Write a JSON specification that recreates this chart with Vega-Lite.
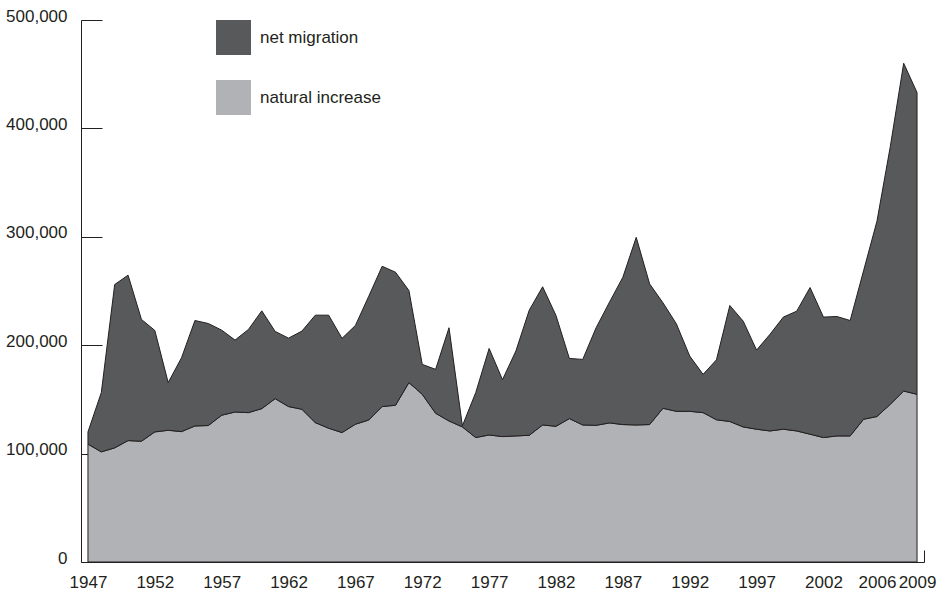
{
  "$schema": "https://vega.github.io/schema/vega-lite/v6.json",
  "width": 843,
  "height": 542,
  "autosize": "none",
  "padding": {"left": 81, "top": 20, "right": 25, "bottom": 29},
  "background": "white",
  "config": {
    "view": {"stroke": null},
    "font": "Liberation Sans, Arial, sans-serif",
    "axis": {
      "labelFont": "Liberation Sans, Arial, sans-serif",
      "labelFontSize": 17,
      "labelColor": "#231f20",
      "domainColor": "#231f20",
      "domainWidth": 1,
      "tickColor": "#231f20",
      "tickWidth": 1,
      "grid": false,
      "title": null
    },
    "legend": {
      "labelFont": "Liberation Sans, Arial, sans-serif"
    }
  },
  "data": {
    "values": [
      {"year": 1947, "series": "natural increase", "value": 108700},
      {"year": 1948, "series": "natural increase", "value": 101600},
      {"year": 1949, "series": "natural increase", "value": 105300},
      {"year": 1950, "series": "natural increase", "value": 112000},
      {"year": 1951, "series": "natural increase", "value": 111400},
      {"year": 1952, "series": "natural increase", "value": 120000},
      {"year": 1953, "series": "natural increase", "value": 121500},
      {"year": 1954, "series": "natural increase", "value": 120300},
      {"year": 1955, "series": "natural increase", "value": 125500},
      {"year": 1956, "series": "natural increase", "value": 125900},
      {"year": 1957, "series": "natural increase", "value": 135400},
      {"year": 1958, "series": "natural increase", "value": 138400},
      {"year": 1959, "series": "natural increase", "value": 137800},
      {"year": 1960, "series": "natural increase", "value": 141500},
      {"year": 1961, "series": "natural increase", "value": 150700},
      {"year": 1962, "series": "natural increase", "value": 143400},
      {"year": 1963, "series": "natural increase", "value": 140900},
      {"year": 1964, "series": "natural increase", "value": 128600},
      {"year": 1965, "series": "natural increase", "value": 123400},
      {"year": 1966, "series": "natural increase", "value": 119400},
      {"year": 1967, "series": "natural increase", "value": 127100},
      {"year": 1968, "series": "natural increase", "value": 131000},
      {"year": 1969, "series": "natural increase", "value": 143400},
      {"year": 1970, "series": "natural increase", "value": 144600},
      {"year": 1971, "series": "natural increase", "value": 165500},
      {"year": 1972, "series": "natural increase", "value": 154700},
      {"year": 1973, "series": "natural increase", "value": 137200},
      {"year": 1974, "series": "natural increase", "value": 130100},
      {"year": 1975, "series": "natural increase", "value": 124600},
      {"year": 1976, "series": "natural increase", "value": 114800},
      {"year": 1977, "series": "natural increase", "value": 117200},
      {"year": 1978, "series": "natural increase", "value": 115700},
      {"year": 1979, "series": "natural increase", "value": 116300},
      {"year": 1980, "series": "natural increase", "value": 116900},
      {"year": 1981, "series": "natural increase", "value": 126400},
      {"year": 1982, "series": "natural increase", "value": 125200},
      {"year": 1983, "series": "natural increase", "value": 132300},
      {"year": 1984, "series": "natural increase", "value": 126400},
      {"year": 1985, "series": "natural increase", "value": 126100},
      {"year": 1986, "series": "natural increase", "value": 128300},
      {"year": 1987, "series": "natural increase", "value": 126800},
      {"year": 1988, "series": "natural increase", "value": 126400},
      {"year": 1989, "series": "natural increase", "value": 126800},
      {"year": 1990, "series": "natural increase", "value": 141800},
      {"year": 1991, "series": "natural increase", "value": 139000},
      {"year": 1992, "series": "natural increase", "value": 139000},
      {"year": 1993, "series": "natural increase", "value": 137800},
      {"year": 1994, "series": "natural increase", "value": 131200},
      {"year": 1995, "series": "natural increase", "value": 129600},
      {"year": 1996, "series": "natural increase", "value": 124600},
      {"year": 1997, "series": "natural increase", "value": 122500},
      {"year": 1998, "series": "natural increase", "value": 120900},
      {"year": 1999, "series": "natural increase", "value": 122500},
      {"year": 2000, "series": "natural increase", "value": 120900},
      {"year": 2001, "series": "natural increase", "value": 117900},
      {"year": 2002, "series": "natural increase", "value": 114800},
      {"year": 2003, "series": "natural increase", "value": 116300},
      {"year": 2004, "series": "natural increase", "value": 116300},
      {"year": 2005, "series": "natural increase", "value": 131700},
      {"year": 2006, "series": "natural increase", "value": 134200},
      {"year": 2007, "series": "natural increase", "value": 145500},
      {"year": 2008, "series": "natural increase", "value": 157700},
      {"year": 2009, "series": "natural increase", "value": 154700},
      {"year": 1947, "series": "net migration", "value": 11300},
      {"year": 1948, "series": "net migration", "value": 54700},
      {"year": 1949, "series": "net migration", "value": 150700},
      {"year": 1950, "series": "net migration", "value": 152600},
      {"year": 1951, "series": "net migration", "value": 112400},
      {"year": 1952, "series": "net migration", "value": 93600},
      {"year": 1953, "series": "net migration", "value": 44000},
      {"year": 1954, "series": "net migration", "value": 68200},
      {"year": 1955, "series": "net migration", "value": 97300},
      {"year": 1956, "series": "net migration", "value": 94100},
      {"year": 1957, "series": "net migration", "value": 78500},
      {"year": 1958, "series": "net migration", "value": 66300},
      {"year": 1959, "series": "net migration", "value": 76700},
      {"year": 1960, "series": "net migration", "value": 90200},
      {"year": 1961, "series": "net migration", "value": 62000},
      {"year": 1962, "series": "net migration", "value": 63100},
      {"year": 1963, "series": "net migration", "value": 72100},
      {"year": 1964, "series": "net migration", "value": 99100},
      {"year": 1965, "series": "net migration", "value": 104300},
      {"year": 1966, "series": "net migration", "value": 86900},
      {"year": 1967, "series": "net migration", "value": 91100},
      {"year": 1968, "series": "net migration", "value": 114200},
      {"year": 1969, "series": "net migration", "value": 129400},
      {"year": 1970, "series": "net migration", "value": 122700},
      {"year": 1971, "series": "net migration", "value": 85000},
      {"year": 1972, "series": "net migration", "value": 27600},
      {"year": 1973, "series": "net migration", "value": 40500},
      {"year": 1974, "series": "net migration", "value": 86000},
      {"year": 1975, "series": "net migration", "value": 1000},
      {"year": 1976, "series": "net migration", "value": 41500},
      {"year": 1977, "series": "net migration", "value": 79800},
      {"year": 1978, "series": "net migration", "value": 52500},
      {"year": 1979, "series": "net migration", "value": 78300},
      {"year": 1980, "series": "net migration", "value": 115400},
      {"year": 1981, "series": "net migration", "value": 127500},
      {"year": 1982, "series": "net migration", "value": 102200},
      {"year": 1983, "series": "net migration", "value": 55500},
      {"year": 1984, "series": "net migration", "value": 60500},
      {"year": 1985, "series": "net migration", "value": 90000},
      {"year": 1986, "series": "net migration", "value": 111400},
      {"year": 1987, "series": "net migration", "value": 135900},
      {"year": 1988, "series": "net migration", "value": 173100},
      {"year": 1989, "series": "net migration", "value": 129800},
      {"year": 1990, "series": "net migration", "value": 97300},
      {"year": 1991, "series": "net migration", "value": 80800},
      {"year": 1992, "series": "net migration", "value": 51000},
      {"year": 1993, "series": "net migration", "value": 35300},
      {"year": 1994, "series": "net migration", "value": 55300},
      {"year": 1995, "series": "net migration", "value": 107000},
      {"year": 1996, "series": "net migration", "value": 97600},
      {"year": 1997, "series": "net migration", "value": 73000},
      {"year": 1998, "series": "net migration", "value": 89100},
      {"year": 1999, "series": "net migration", "value": 103400},
      {"year": 2000, "series": "net migration", "value": 110500},
      {"year": 2001, "series": "net migration", "value": 135300},
      {"year": 2002, "series": "net migration", "value": 111100},
      {"year": 2003, "series": "net migration", "value": 110200},
      {"year": 2004, "series": "net migration", "value": 106500},
      {"year": 2005, "series": "net migration", "value": 136900},
      {"year": 2006, "series": "net migration", "value": 180100},
      {"year": 2007, "series": "net migration", "value": 237800},
      {"year": 2008, "series": "net migration", "value": 302400},
      {"year": 2009, "series": "net migration", "value": 278400}
    ]
  },
  "mark": {"type": "area", "stroke": "#231f20", "strokeWidth": 1, "strokeJoin": "miter", "opacity": 1},
  "encoding": {
    "x": {
      "field": "year",
      "type": "quantitative",
      "scale": {"domain": [1946.48, 2009.52], "nice": false, "zero": false},
      "axis": {
        "values": [1947, 1952, 1957, 1962, 1967, 1972, 1977, 1982, 1987, 1992, 1997, 2002, 2006, 2009, 2009.52],
        "labelExpr": "datum.value > 2009.1 ? '' : format(datum.value, 'd')",
        "tickSize": -12,
        "tickOpacity": {"condition": {"test": "datum.value > 2009.1", "value": 1}, "value": 0},
        "labelPadding": 24,
        "labelFlush": false,
        "labelOverlap": false,
        "labelBound": false
      }
    },
    "y": {
      "field": "value",
      "type": "quantitative",
      "stack": "zero",
      "scale": {"domain": [0, 500000], "nice": false},
      "axis": {
        "values": [0, 100000, 200000, 300000, 400000, 500000],
        "format": ",d",
        "tickSize": -21,
        "labelPadding": 35,
        "labelOffset": -4,
        "labelFlush": false,
        "labelOverlap": false
      }
    },
    "color": {
      "field": "series",
      "type": "nominal",
      "scale": {"domain": ["net migration", "natural increase"], "range": ["#58595b", "#b1b2b5"]},
      "legend": {
        "title": null,
        "orient": "none",
        "legendX": 135,
        "legendY": 0,
        "padding": 0,
        "symbolType": "square",
        "symbolSize": 1225,
        "symbolStrokeWidth": 0,
        "symbolOpacity": 1,
        "rowPadding": 25,
        "labelOffset": 9,
        "labelFontSize": 17,
        "labelColor": "#231f20",
        "labelLimit": 300
      }
    },
    "order": {"field": "series", "sort": "ascending"}
  }
}
